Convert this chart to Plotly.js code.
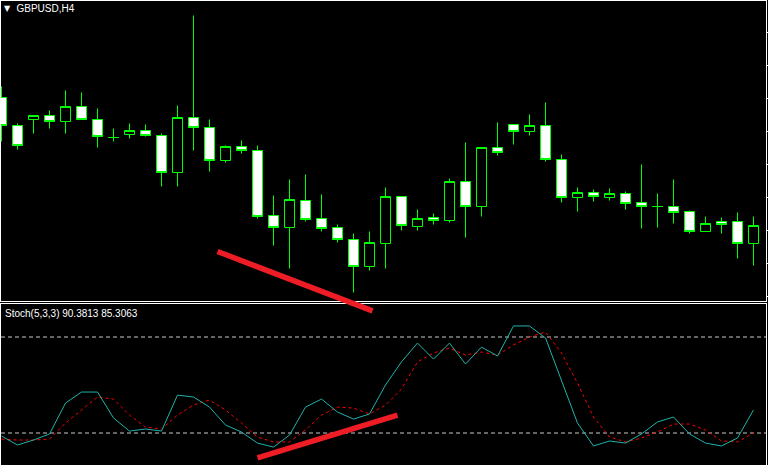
<!DOCTYPE html>
<html><head><meta charset="utf-8">
<script src="https://cdn.plot.ly/plotly-3.0.1.min.js"></script>
<style>html,body{margin:0;padding:0;background:#000;overflow:hidden}</style>
</head><body><div id="chart" style="width:768px;height:465px"></div>
<script>
// ---- data (GBPUSD H4) ----
const bars = [0,1,2,3,4,5,6,7,8,9,10,11,12,13,14,15,16,17,18,19,20,21,22,23,24,25,26,27,28,29,30,31,32,33,34,35,36,37,38,39,40,41,42,43,44,45,46,47];
const openP  = [1.3302,1.3274,1.3280,1.3284,1.3278,1.3293,1.3280,1.3262,1.3265,1.3269,1.3264,1.3227,1.3282,1.3272,1.3239,1.3253,1.3249,1.3184,1.3172,1.3199,1.3181,1.3172,1.3160,1.3133,1.3156,1.3203,1.3173,1.3182,1.3179,1.3218,1.3193,1.3252,1.3275,1.3268,1.3274,1.3240,1.3202,1.3207,1.3202,1.3206,1.3197,1.3193,1.3193,1.3188,1.3168,1.3178,1.3178,1.3156];
const highP  = [1.3313,1.3276,1.3284,1.3289,1.3309,1.3307,1.3291,1.3271,1.3276,1.3275,1.3266,1.3294,1.3384,1.3280,1.3254,1.3259,1.3254,1.3204,1.3220,1.3225,1.3205,1.3175,1.3166,1.3168,1.3212,1.3203,1.3190,1.3186,1.3221,1.3257,1.3252,1.3277,1.3275,1.3285,1.3297,1.3245,1.3212,1.3210,1.3211,1.3208,1.3235,1.3206,1.3220,1.3189,1.3183,1.3182,1.3187,1.3183];
const lowP   = [1.3258,1.3250,1.3266,1.3271,1.3266,1.3280,1.3252,1.3258,1.3261,1.3263,1.3213,1.3213,1.3249,1.3228,1.3237,1.3246,1.3181,1.3154,1.3131,1.3178,1.3168,1.3157,1.3107,1.3129,1.3131,1.3169,1.3169,1.3175,1.3177,1.3162,1.3183,1.3244,1.3255,1.3264,1.3238,1.3197,1.3188,1.3198,1.3199,1.3190,1.3171,1.3172,1.3176,1.3166,1.3168,1.3166,1.3141,1.3134];
const closeP = [1.3274,1.3254,1.3284,1.3278,1.3293,1.3280,1.3263,1.3262,1.3269,1.3264,1.3227,1.3282,1.3272,1.3239,1.3253,1.3249,1.3183,1.3172,1.3200,1.3180,1.3171,1.3160,1.3133,1.3157,1.3203,1.3174,1.3181,1.3179,1.3218,1.3193,1.3252,1.3247,1.3268,1.3274,1.3240,1.3202,1.3207,1.3203,1.3206,1.3196,1.3193,1.3193,1.3187,1.3168,1.3176,1.3175,1.3156,1.3174];

// Stochastic (5,3,3)
const stochMain   = [18.1,12.5,15.6,19.4,38.7,45.6,45.6,29.4,21.2,22.5,21.2,43.7,42.5,36.2,25.0,20.6,13.7,11.2,18.7,36.2,41.2,33.1,28.7,31.9,50.0,64.5,76.2,66.2,76.2,63.1,73.7,68.1,86.9,86.9,79.4,53.1,26.2,11.9,15.0,13.7,19.4,26.9,30.0,19.4,13.7,11.9,16.9,34.4];
const stochSignal = [16.2,15.6,15.6,16.2,26.2,34.4,42.5,41.2,31.2,23.7,22.5,31.2,37.5,40.6,34.4,26.2,17.5,14.4,14.4,21.9,31.2,36.2,35.6,31.9,37.5,47.5,64.4,70.0,73.1,68.7,70.6,68.7,75.0,80.0,83.1,70.0,51.2,30.0,17.5,14.4,16.9,20.6,25.6,25.6,21.9,15.0,14.4,20.0];
const stochLevels = [80, 20];

const symbolLabel = 'GBPUSD,H4';
const stochLabel = 'Stoch(5,3,3) 90.3813 85.3063';

// hand-drawn trend lines (bar index, value)
const priceTrendBars = [13.5, 23.19];      // start in price pane, end in stoch pane
const priceTrendVals = [1.3148, 96.3];
const stochTrendBars = [16.0, 24.75];
const stochTrendVals = [4.4, 31.2];

// ---- layout ----
const W = 768, H = 465;
const mL = 1, mR = 2, mT = 1, mB = 0;
const plotH = H - mT - mB;
const xRange = [-0.03125, 47.78125];
const yRange = [1.30985, 1.33985];
const y2Range = [0, 100.625];
const yDom = [(H - 301) / plotH, 1];
const y2Dom = [0, (H - 304) / plotH];

function px(b){ return (b - xRange[0]) / (xRange[1] - xRange[0]); }
function pyPrice(v){ return yDom[0] + (v - yRange[0]) / (yRange[1] - yRange[0]) * (yDom[1] - yDom[0]); }
function pyStoch(v){ return y2Dom[0] + (v - y2Range[0]) / (y2Range[1] - y2Range[0]) * (y2Dom[1] - y2Dom[0]); }

const traces = [
  {
    type: 'candlestick', x: bars, open: openP, high: highP, low: lowP, close: closeP,
    xaxis: 'x', yaxis: 'y',
    increasing: {line: {color: '#00FF00', width: 1}, fillcolor: '#000000'},
    decreasing: {line: {color: '#00FF00', width: 1}, fillcolor: '#FFFFFF'},
    whiskerwidth: 0, hoverinfo: 'skip', showlegend: false
  },
  {
    type: 'scatter', mode: 'lines', x: bars, y: stochSignal, xaxis: 'x2', yaxis: 'y2',
    line: {color: '#FF0000', width: 1, dash: '3px,3px'}, hoverinfo: 'skip', showlegend: false
  },
  {
    type: 'scatter', mode: 'lines', x: bars, y: stochMain, xaxis: 'x2', yaxis: 'y2',
    line: {color: '#20B2AA', width: 1}, hoverinfo: 'skip', showlegend: false
  }
];

const shapes = stochLevels.map(l => ({
  type: 'line', xref: 'paper', yref: 'y2', x0: 0, x1: 1, y0: l, y1: l,
  line: {color: '#C8C8C8', width: 1, dash: '4px,3px'}, layer: 'below'
}));
shapes.push({
  type: 'line', xref: 'paper', yref: 'paper',
  x0: px(priceTrendBars[0]), y0: pyPrice(priceTrendVals[0]),
  x1: px(priceTrendBars[1]), y1: pyStoch(priceTrendVals[1]),
  line: {color: '#EE1C25', width: 5.5}, layer: 'above'
});
shapes.push({
  type: 'line', xref: 'x2', yref: 'y2',
  x0: stochTrendBars[0], y0: stochTrendVals[0], x1: stochTrendBars[1], y1: stochTrendVals[1],
  line: {color: '#EE1C25', width: 5.5}, layer: 'above'
});

const axBase = {showgrid: false, zeroline: false, showline: true, mirror: true, linecolor: '#FFFFFF', linewidth: 1, fixedrange: true};

const layout = {
  width: W, height: H,
  margin: {l: mL, r: mR, t: mT, b: mB, pad: 0},
  paper_bgcolor: '#000000', plot_bgcolor: '#000000',
  showlegend: false,
  boxgap: 0.375, boxgroupgap: 0,
  title: {text: symbolLabel, font: {family: 'Liberation Sans, Arial, sans-serif', size: 10, color: '#FFFFFF'},
          x: 16.5 / W, xref: 'container', xanchor: 'left', y: 1 - 8 / H, yref: 'container', yanchor: 'middle'},
  xaxis: Object.assign({}, axBase, {domain: [0, 1], range: xRange, anchor: 'y', showticklabels: false, ticks: '', rangeslider: {visible: false}}),
  yaxis: Object.assign({}, axBase, {domain: yDom, range: yRange, side: 'right', ticks: 'outside', ticklen: 2, tickcolor: '#FFFFFF',
          tick0: 1.3367, dtick: 0.0033, showticklabels: false}),
  xaxis2: Object.assign({}, axBase, {domain: [0, 1], range: xRange, anchor: 'y2', matches: 'x', showticklabels: false, ticks: ''}),
  yaxis2: Object.assign({}, axBase, {domain: y2Dom, range: y2Range, anchor: 'x2', showticklabels: false, ticks: ''}),
  shapes: shapes,
  annotations: [
    {text: '▼', xref: 'paper', yref: 'paper', x: (7.5 - mL) / (W - mL - mR), y: (H - 8.5) / plotH,
     xanchor: 'center', yanchor: 'middle', showarrow: false, font: {family: 'DejaVu Sans', size: 8, color: '#FFFFFF'}},
    {text: stochLabel, xref: 'paper', yref: 'paper', x: (3 - mL) / (W - mL - mR), y: (H - 313) / plotH,
     xanchor: 'left', yanchor: 'middle', showarrow: false, font: {family: 'Liberation Sans, Arial, sans-serif', size: 10, color: '#FFFFFF'}}
  ]
};

Plotly.newPlot('chart', traces, layout, {staticPlot: true, displayModeBar: false});
</script>
</body></html>
